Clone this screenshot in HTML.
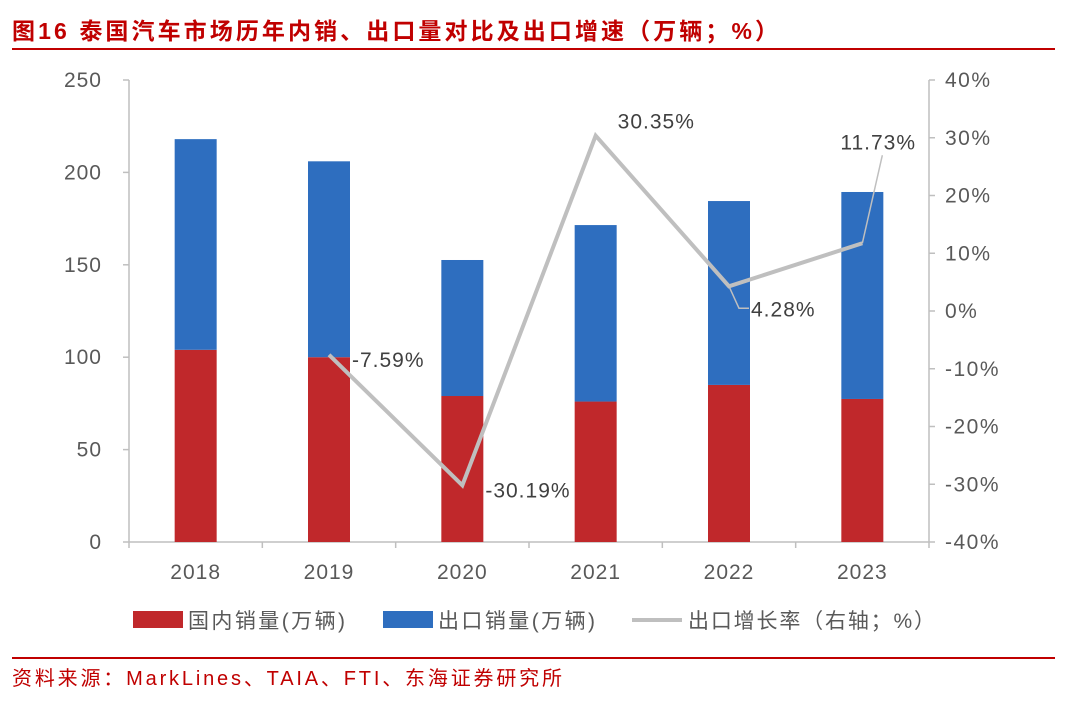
<!DOCTYPE html>
<html><head><meta charset="utf-8"><style>
body{margin:0;background:#fff;width:1080px;height:707px;overflow:hidden;font-family:"Liberation Sans","Noto Sans CJK SC",sans-serif}
</style></head><body>
<svg id="c" width="1080" height="707" style="font-family:'Liberation Sans','Noto Sans CJK SC',sans-serif">
<text x="12" y="39" font-size="23" font-weight="bold" fill="#c00000" textLength="766" lengthAdjust="spacing">图16  泰国汽车市场历年内销、出口量对比及出口增速（万辆；%）</text>
<line x1="12" y1="49" x2="1055" y2="49" stroke="#c00000" stroke-width="2"/>
<line x1="12" y1="658" x2="1055" y2="658" stroke="#c00000" stroke-width="2"/>
<text x="12" y="685" font-size="20" fill="#c00000" textLength="550" lengthAdjust="spacing">资料来源：MarkLines、TAIA、FTI、东海证券研究所</text>
<g id="plot"></g>
<g>
<rect x="133" y="611" width="50" height="17" fill="#c0282b"/>
<text x="188" y="628" font-size="21" fill="#595959" textLength="157" lengthAdjust="spacing">国内销量(万辆)</text>
<rect x="383" y="611" width="50" height="17" fill="#2e6ebf"/>
<text x="438" y="628" font-size="21" fill="#595959" textLength="157" lengthAdjust="spacing">出口销量(万辆)</text>
<line x1="632" y1="620" x2="682" y2="620" stroke="#bfbfbf" stroke-width="4"/>
<text x="688" y="628" font-size="21" fill="#595959" textLength="247" lengthAdjust="spacing">出口增长率（右轴；%）</text>
</g>
</svg>
<script>
const years=["2018","2019","2020","2021","2022","2023"];
const domestic=[104,100,79,76,85,77.4];
const exportVol=[114,106,73.6,95.5,99.5,112];
const growth=[null,-7.59,-30.19,30.35,4.28,11.73];
const leftTicks=[0,50,100,150,200,250];
const rightTicks=[-40,-30,-20,-10,0,10,20,30,40];
const NS="http://www.w3.org/2000/svg";
const g=document.getElementById('plot');
const X0=129,X1=929,Y0=542,Y1=80;
const bw=(X1-X0)/years.length;
const xc=i=>X0+bw*(i+0.5);
const yl=v=>Y0-(v/250)*(Y0-Y1);
const yr=v=>Y0-((v+40)/80)*(Y0-Y1);
function el(t,a,txt){const e=document.createElementNS(NS,t);for(const k in a)e.setAttribute(k,a[k]);if(txt!=null)e.textContent=txt;g.appendChild(e);return e;}
let e;
e=el('line',{x1:X0,y1:Y1,x2:X0,y2:Y0,stroke:'#bfbfbf','stroke-width':1.5});

e=el('line',{x1:X1,y1:Y1,x2:X1,y2:Y0,stroke:'#bfbfbf','stroke-width':1.5});

e=el('line',{x1:X0,y1:Y0,x2:X1,y2:Y0,stroke:'#bfbfbf','stroke-width':1.5});

for(let i=0;i<=years.length;i++){e=el('line',{x1:X0+bw*i,y1:Y0,x2:X0+bw*i,y2:Y0+6,stroke:'#bfbfbf','stroke-width':1.5});
}
leftTicks.forEach(v=>{e=el('line',{x1:X0-6,y1:yl(v),x2:X0,y2:yl(v),stroke:'#bfbfbf','stroke-width':1.5});

e=el('text',{x:102,y:yl(v)+7,'font-size':21,'letter-spacing':1,fill:'#595959','text-anchor':'end'},v);
});
rightTicks.forEach(v=>{e=el('line',{x1:X1,y1:yr(v),x2:X1+6,y2:yr(v),stroke:'#bfbfbf','stroke-width':1.5});

e=el('text',{x:945,y:yr(v)+7,'font-size':21,'letter-spacing':1.5,fill:'#595959'},v+'%');
});
years.forEach((y,i)=>{
const x=xc(i)-21;
e=el('rect',{x:x,y:yl(domestic[i]),width:42,height:Y0-yl(domestic[i]),fill:'#c0282b'});

const top=domestic[i]+exportVol[i];
e=el('rect',{x:x,y:yl(top),width:42,height:yl(domestic[i])-yl(top),fill:'#2e6ebf'});

e=el('text',{x:xc(i),y:579,'font-size':21,'letter-spacing':1,fill:'#595959','text-anchor':'middle'},y);

});
const pts=[];growth.forEach((v,i)=>{if(v!=null)pts.push([xc(i),yr(v),v,i]);});
e=el('polyline',{points:pts.map(p=>p[0]+','+p[1]).join(' '),fill:'none',stroke:'#bfbfbf','stroke-width':4,'stroke-linejoin':'miter'});

const off=[[23,5,0],[23,5,0],[22,-14,0],[23,0,1],[-22,-140,2]];
pts.forEach((p,k)=>{
const o=off[k];let tx=p[0]+o[0],ty=p[1]+o[1]+7;
if(o[2]===1){tx=p[0]+22;ty=p[1]+30;
e=el('polyline',{points:`${p[0]},${p[1]} ${p[0]+10},${p[1]+22} ${p[0]+20},${p[1]+22}`,fill:'none',stroke:'#bfbfbf','stroke-width':1.5});
}
if(o[2]===2){tx=p[0]-22;ty=p[1]-94;
e=el('line',{x1:p[0],y1:p[1],x2:p[0]+20,y2:p[1]-88,stroke:'#bfbfbf','stroke-width':1.5});
}
e=el('text',{x:tx,y:ty,'font-size':21,'letter-spacing':1,fill:'#404040'},p[2].toFixed(2)+'%');

});
</script>
</body></html>
